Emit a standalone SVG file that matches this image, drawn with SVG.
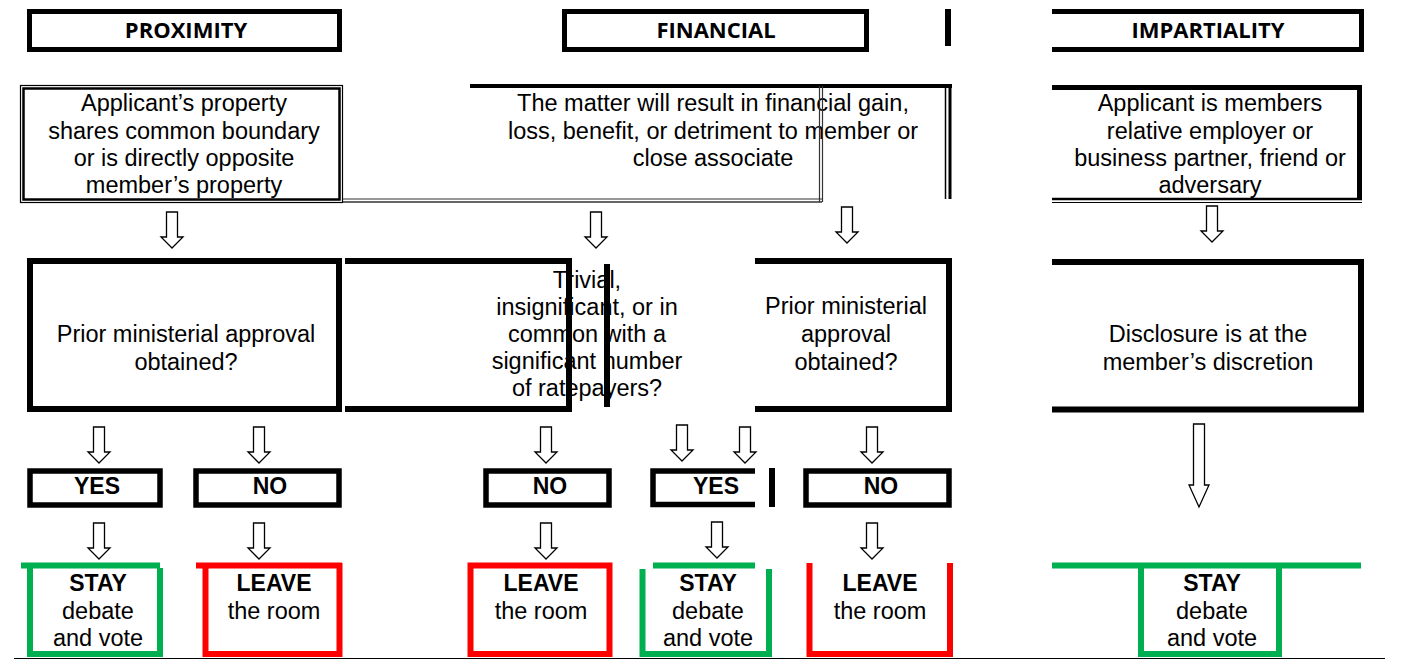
<svg xmlns="http://www.w3.org/2000/svg" xmlns:xlink="http://www.w3.org/1999/xlink" width="1406" height="659" viewBox="0 0 1406 659">
<style>
.t{font-family:"Liberation Sans",Arial,sans-serif;font-size:23.5px;fill:#000;text-anchor:middle}
.h{font-family:"Open Sans","DejaVu Sans",sans-serif;font-weight:bold;font-size:22px;fill:#000;text-anchor:middle}
.b{font-family:"Liberation Sans",Arial,sans-serif;font-weight:bold;font-size:23px;fill:#000;text-anchor:middle}
.k{fill:none;stroke:#000;stroke-linecap:butt}
.g{fill:none;stroke:#00B050;stroke-width:6}
.r{fill:none;stroke:#FF0000;stroke-width:6}
.a{fill:#fff;stroke:#000;stroke-width:1.3;stroke-linejoin:miter}
</style>
<defs>
<path id="arr" d="M-5.5,0 H5.5 V25 H11 L0,36 L-11,25 H-5.5 Z"/>
<path id="arrL" d="M-5.5,0 H5.5 V61 H10 L0,83 L-10,61 H-5.5 Z"/>
</defs>
<rect width="1406" height="659" fill="#fff"/>

<g id="proximity-header">
<rect class="k" x="29.5" y="11.5" width="310" height="38" stroke-width="5"/>
<text class="h" x="186" y="38">PROXIMITY</text>
</g>
<g id="financial-header">
<rect class="k" x="564.5" y="11.5" width="302" height="38" stroke-width="5"/>
<text class="h" x="716" y="38">FINANCIAL</text>
<line class="k" x1="948" y1="9" x2="948" y2="46" stroke-width="6"/>
</g>
<g id="impartiality-header">
<path class="k" d="M1052,11.5 H1361.5 V49.5 H1052" stroke-width="5"/>
<text class="h" x="1208" y="38">IMPARTIALITY</text>
</g>

<g id="proximity-condition">
<rect class="k" x="20.5" y="85.5" width="322" height="117" stroke-width="1.2"/>
<rect class="k" x="23.5" y="88.5" width="316" height="111" stroke-width="2.5"/>
<text class="t" x="184" y="111">Applicant’s property</text>
<text class="t" x="184" y="139">shares common boundary</text>
<text class="t" x="184" y="166">or is directly opposite</text>
<text class="t" x="184" y="193">member’s property</text>
</g>
<g id="financial-condition">
<text class="t" x="713" y="111">The matter will result in financial gain,</text>
<text class="t" x="713" y="139">loss, benefit, or detriment to member or</text>
<text class="t" x="713" y="166">close associate</text>
<line class="k" x1="470" y1="86" x2="952" y2="86" stroke-width="4"/>
<line class="k" x1="945.5" y1="86" x2="945.5" y2="199" stroke-width="1.5"/>
<line class="k" x1="950" y1="86" x2="950" y2="199" stroke-width="3"/>
<line x1="819.5" y1="86" x2="819.5" y2="202" stroke="#333" stroke-width="1.2"/>
<line x1="822.5" y1="86" x2="822.5" y2="202" stroke="#333" stroke-width="1.2"/>
<line x1="343" y1="199" x2="822" y2="199" stroke="#333" stroke-width="1.2"/>
<line x1="343" y1="202" x2="822" y2="202" stroke="#333" stroke-width="1.5"/>
</g>
<g id="impartiality-condition">
<path class="k" d="M1052,87.5 H1359.5 V200" stroke-width="5"/>
<line class="k" x1="1052" y1="199" x2="1362" y2="199" stroke-width="2.5"/>
<line class="k" x1="1052" y1="202.5" x2="1362" y2="202.5" stroke-width="1.2"/>
<text class="t" x="1210" y="111">Applicant is members</text>
<text class="t" x="1210" y="139">relative employer or</text>
<text class="t" x="1210" y="166">business partner, friend or</text>
<text class="t" x="1210" y="193">adversary</text>
</g>

<g id="proximity-question">
<rect class="k" x="30" y="261" width="309" height="148" stroke-width="6"/>
<text class="t" x="186" y="342">Prior ministerial approval</text>
<text class="t" x="186" y="370">obtained?</text>
</g>
<g id="financial-trivial-question">
<path class="k" d="M345,261 H569 V409 H345" stroke-width="6"/>
<text class="t" x="587" y="288">Trivial,</text>
<text class="t" x="587" y="315">insignificant, or in</text>
<text class="t" x="587" y="342">common with a</text>
<text class="t" x="587" y="369">significant number</text>
<text class="t" x="587" y="396">of ratepayers?</text>
<line class="k" x1="607" y1="264" x2="607" y2="407" stroke-width="6"/>
</g>
<g id="financial-approval-question">
<path class="k" d="M755,261 H949 V409 H755" stroke-width="6"/>
<text class="t" x="846" y="314">Prior ministerial</text>
<text class="t" x="846" y="342">approval</text>
<text class="t" x="846" y="370">obtained?</text>
</g>
<g id="impartiality-discretion">
<path class="k" d="M1052,262 H1361 V409.5 H1052" stroke-width="6"/>
<text class="t" x="1208" y="342">Disclosure is at the</text>
<text class="t" x="1208" y="370">member’s discretion</text>
</g>

<g id="prox-yes">
<rect class="k" x="30" y="471" width="130" height="34" stroke-width="5.5"/>
<text class="b" x="97" y="494">YES</text>
</g>
<g id="prox-no">
<rect class="k" x="196" y="471" width="143" height="34" stroke-width="5.5"/>
<text class="b" x="270" y="494">NO</text>
</g>
<g id="fin-trivial-no">
<rect class="k" x="486" y="471" width="123" height="34" stroke-width="5.5"/>
<text class="b" x="550" y="494">NO</text>
</g>
<g id="fin-yes">
<path class="k" d="M755,471 H653 V504.5 H755" stroke-width="5.5"/>
<text class="b" x="716" y="494">YES</text>
<line class="k" x1="772" y1="468" x2="772" y2="507" stroke-width="6"/>
</g>
<g id="fin-approval-no">
<rect class="k" x="806" y="471" width="143" height="34" stroke-width="5.5"/>
<text class="b" x="881" y="494">NO</text>
</g>

<g id="prox-stay">
<line class="g" x1="21" y1="565.5" x2="160" y2="565.5" stroke-width="5"/>
<path class="g" d="M30,568 V654 H160 V568"/>
<text class="b" x="98" y="591">STAY</text>
<text class="t" x="98" y="619">debate</text>
<text class="t" x="98" y="646">and vote</text>
</g>
<g id="prox-leave">
<line class="r" x1="196" y1="565.5" x2="342" y2="565.5" stroke-width="5"/>
<path class="r" d="M205.5,568 V654 H339.5 V563"/>
<text class="b" x="274" y="591">LEAVE</text>
<text class="t" x="274" y="619">the room</text>
</g>
<g id="fin-leave-1">
<rect class="r" x="470.5" y="565.5" width="139" height="88.5"/>
<text class="b" x="541" y="591">LEAVE</text>
<text class="t" x="541" y="619">the room</text>
</g>
<g id="fin-stay">
<line class="g" x1="653" y1="565.5" x2="755" y2="565.5" stroke-width="5"/>
<path class="g" d="M642.5,569 V654 H769 V569"/>
<text class="b" x="708" y="591">STAY</text>
<text class="t" x="708" y="619">debate</text>
<text class="t" x="708" y="646">and vote</text>
</g>
<g id="fin-leave-2">
<path class="r" d="M809.5,563 V654 H950 V563"/>
<text class="b" x="880" y="591">LEAVE</text>
<text class="t" x="880" y="619">the room</text>
</g>
<g id="imp-stay">
<line class="g" x1="1052" y1="565.5" x2="1361" y2="565.5" stroke-width="5"/>
<path class="g" d="M1141,568 V654 H1279 V568"/>
<text class="b" x="1212" y="591">STAY</text>
<text class="t" x="1212" y="619">debate</text>
<text class="t" x="1212" y="646">and vote</text>
</g>

<g id="connectors">
<use xlink:href="#arr" href="#arr" class="a" x="172" y="212"/>
<use xlink:href="#arr" href="#arr" class="a" x="596" y="212"/>
<use xlink:href="#arr" href="#arr" class="a" x="847" y="207"/>
<use xlink:href="#arr" href="#arr" class="a" x="1212" y="206"/>
<use xlink:href="#arr" href="#arr" class="a" x="99" y="427"/>
<use xlink:href="#arr" href="#arr" class="a" x="259" y="427"/>
<use xlink:href="#arr" href="#arr" class="a" x="546" y="427"/>
<use xlink:href="#arr" href="#arr" class="a" x="682" y="425"/>
<use xlink:href="#arr" href="#arr" class="a" x="745" y="427"/>
<use xlink:href="#arr" href="#arr" class="a" x="872" y="427"/>
<use xlink:href="#arrL" href="#arrL" class="a" x="1199" y="424"/>
<use xlink:href="#arr" href="#arr" class="a" x="99" y="523"/>
<use xlink:href="#arr" href="#arr" class="a" x="259" y="523"/>
<use xlink:href="#arr" href="#arr" class="a" x="546" y="523"/>
<use xlink:href="#arr" href="#arr" class="a" x="717" y="522"/>
<use xlink:href="#arr" href="#arr" class="a" x="872" y="523"/>
</g>
<line x1="14" y1="658.5" x2="1385" y2="658.5" stroke="#000" stroke-width="1"/>
</svg>
